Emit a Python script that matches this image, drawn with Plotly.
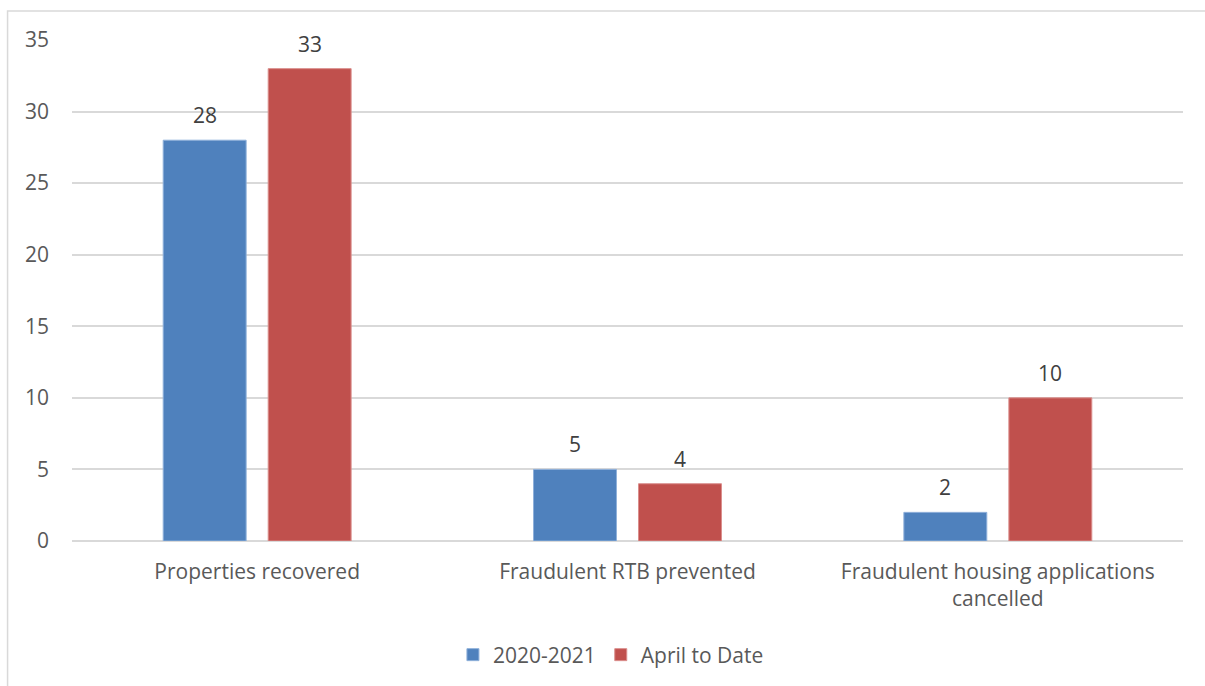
import plotly.graph_objects as go

categories = ["Properties recovered", "Fraudulent RTB prevented",
              "Fraudulent housing applications<br>cancelled"]
series_names = ["2020-2021", "April to Date"]
values_2020 = [28, 5, 2]
values_april = [33, 4, 10]
y_ticks = [0, 5, 10, 15, 20, 25, 30, 35]

colors = ["#4F81BD", "#C0504D"]
outlines = ["#8FB0DA", "#DA8E8C"]
font_family = "'Open Sans', Lato, sans-serif"
fs = 21

fig = go.Figure()
for name, vals, c, oc in zip(series_names, [values_2020, values_april], colors, outlines):
    fig.add_trace(go.Bar(
        x=categories, y=vals, name=name,
        marker=dict(color=c, line=dict(color=oc, width=1)),
        hoverinfo="x+y+name",
    ))

slot_px = 105
for i, vals in enumerate([values_2020, values_april]):
    shift = (-0.5 if i == 0 else 0.5) * slot_px
    for cat, v in zip(categories, vals):
        fig.add_annotation(x=cat, y=v, text=str(v), showarrow=False,
                           xanchor="center", yanchor="bottom",
                           xshift=shift, yshift=9,
                           font=dict(family=font_family, size=fs, color="#404040"))

fig.add_shape(type="rect", xref="paper", yref="paper",
              x0=-0.058, x1=1.2, y0=-0.5, y1=1.058,
              line=dict(color="#D9D9D9", width=1.5), layer="below")

fig.update_layout(
    width=1205, height=686,
    margin=dict(l=72, r=22, t=40, b=145),
    paper_bgcolor="white", plot_bgcolor="white",
    barmode="group", bargap=0.433, bargroupgap=0.21,
    font=dict(family=font_family, size=fs, color="#595959"),
    showlegend=True,
    legend=dict(orientation="h", xref="container", yref="container",
                x=0.507, y=1 - 655 / 686, xanchor="center", yanchor="middle",
                font=dict(size=fs, color="#595959"), itemwidth=30,
                tracegroupgap=0, traceorder="normal"),
    xaxis=dict(showgrid=False, showline=False, ticks="", ticklabelstandoff=16,
               tickfont=dict(size=fs, color="#595959")),
    yaxis=dict(range=[0, 35], tickvals=y_ticks, showgrid=True,
               gridcolor="#D9D9D9", gridwidth=1.5, zeroline=True,
               zerolinecolor="#D9D9D9", zerolinewidth=1.5, showline=False,
               ticks="", ticklabelstandoff=22,
               tickfont=dict(size=fs, color="#595959")),
)

fig.write_html("out.html")
